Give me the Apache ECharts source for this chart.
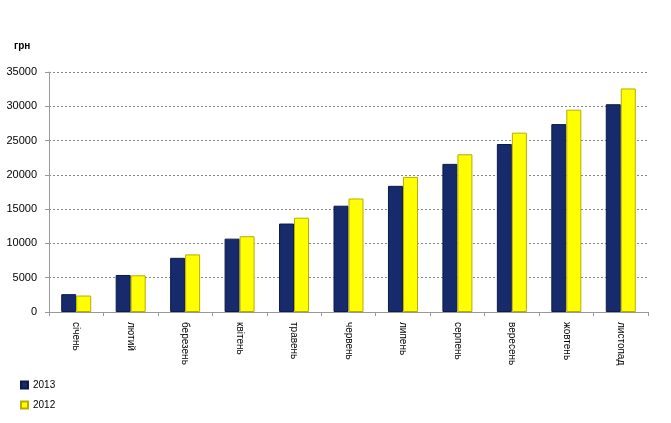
<!DOCTYPE html>
<html>
<head>
<meta charset="utf-8">
<script src="https://cdn.jsdelivr.net/npm/echarts@6/dist/echarts.min.js"></script>
<style>html,body{margin:0;padding:0;background:#fff}#c{width:671px;height:423px}</style>
</head>
<body>
<div id="c"></div>
<script>
var categories = ['січень','лютий','березень','квітень','травень','червень','липень','серпень','вересень','жовтень','листопад'];
var values2013 = [2600, 5400, 7900, 10700, 12900, 15500, 18400, 21600, 24500, 27400, 30300];
var values2012 = [2400, 5350, 8400, 11050, 13750, 16550, 19700, 23000, 26150, 29500, 32600];
var yTicks = [0, 5000, 10000, 15000, 20000, 25000, 30000, 35000];

var chart = echarts.init(document.getElementById('c'));
chart.setOption({
  animation: false,
  textStyle: {fontFamily: 'Liberation Sans, Arial, sans-serif'},
  grid: {left: 49, right: 23, top: 72, bottom: 111},
  graphic: [{type: 'text', left: 14, top: 41, style: {text: 'грн', font: 'bold 10px Liberation Sans, Arial', fill: '#000'}}],
  legend: {
    orient: 'vertical', left: 15, top: 375, itemWidth: 7, itemHeight: 7, itemGap: 10,
    icon: 'rect', textStyle: {fontSize: 10, color: '#000'},
    data: ['2013', '2012']
  },
  xAxis: {
    type: 'category', data: categories,
    axisLine: {lineStyle: {color: '#999'}},
    axisTick: {show: true, lineStyle: {color: '#999'}, length: 4},
    axisLabel: {rotate: -90, fontSize: 10, color: '#000', margin: 10}
  },
  yAxis: {
    type: 'value', min: 0, max: 35000, interval: 5000,
    axisLine: {show: true, lineStyle: {color: '#999'}},
    axisTick: {show: true, length: 4, lineStyle: {color: '#999'}},
    axisLabel: {fontSize: 11, color: '#000', margin: 12,
      formatter: function (v) { return yTicks.indexOf(v) >= 0 ? String(v) : ''; }},
    splitLine: {lineStyle: {color: '#888', type: [2, 2], width: 1}}
  },
  series: [
    {name: '2013', type: 'bar', data: values2013, barWidth: 15, barGap: '0%',
      itemStyle: {color: '#172a6b', borderColor: '#0c1a4a', borderWidth: 1}},
    {name: '2012', type: 'bar', data: values2012, barWidth: 15,
      itemStyle: {color: '#ffff00', borderColor: '#b8ac00', borderWidth: 1}}
  ]
});
</script>
</body>
</html>
